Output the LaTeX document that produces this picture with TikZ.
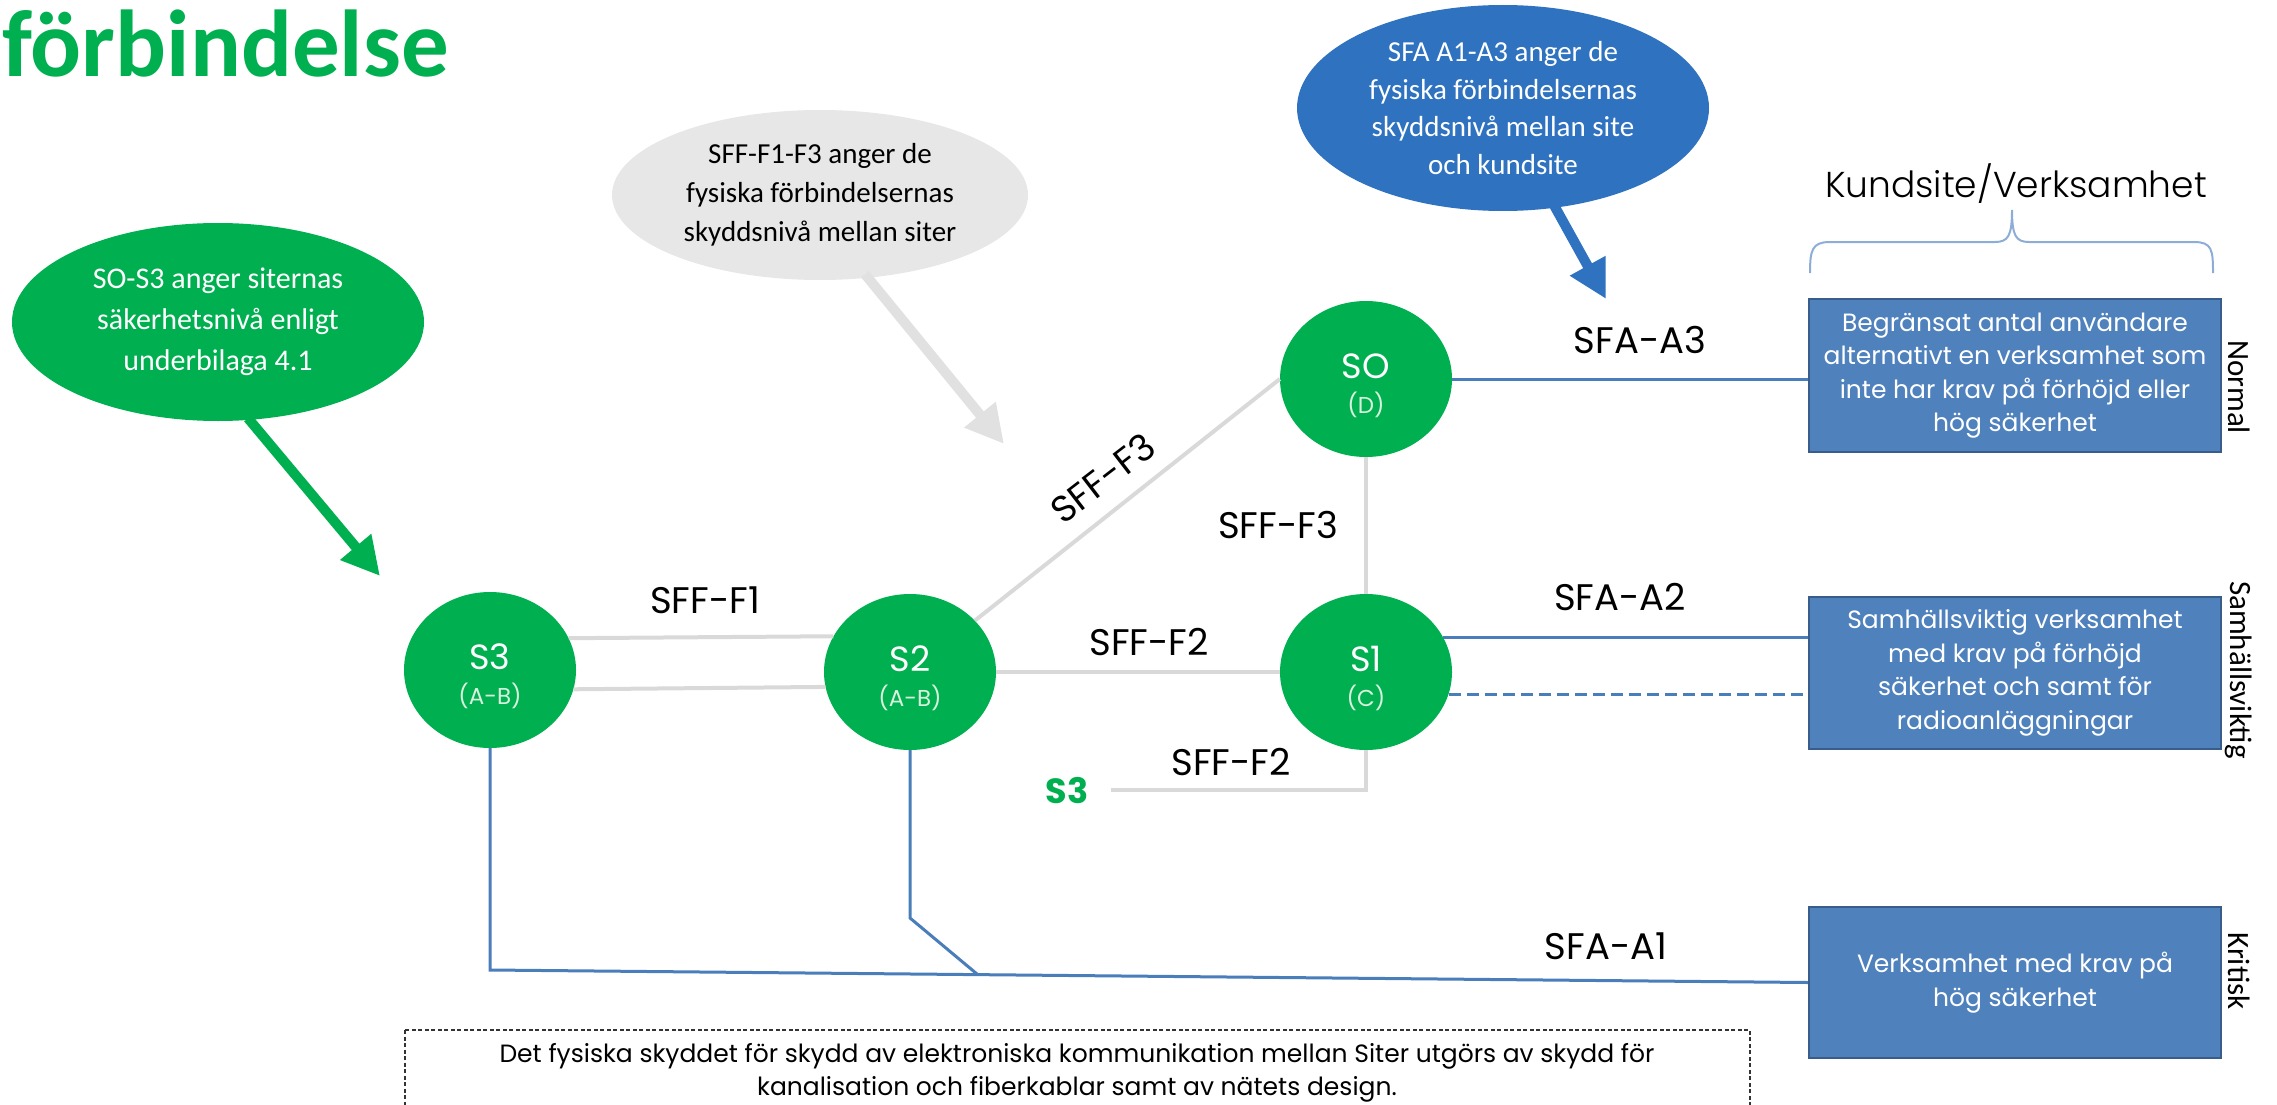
\documentclass[tikz,border=0pt]{standalone}
\usepackage{fontspec}
\setmainfont{Carlito}
\newfontfamily\cg{Poppins}
\newfontfamily\cgl{Poppins Light}
\usetikzlibrary{shapes.geometric,arrows.meta}
\definecolor{ogreen}{HTML}{00B050}
\definecolor{oblue}{HTML}{2F72C0}
\definecolor{boxblue}{HTML}{4F81BD}
\definecolor{boxborder}{HTML}{385D8A}
\definecolor{lineblue}{HTML}{4A7EBB}
\definecolor{lgray}{HTML}{D9D9D9}
\definecolor{egray}{HTML}{E7E7E7}
\definecolor{agray}{HTML}{E1E1E1}
\definecolor{bracec}{HTML}{8DADD6}
\definecolor{subtext}{HTML}{D8F2DE}
\newcommand\fs[2]{\fontsize{#1}{#2}\selectfont}
\begin{document}
\begin{tikzpicture}[x=1pt,y=-1pt,
  site/.style={ellipse, fill=ogreen, minimum width=172pt, minimum height=156pt, inner sep=0pt},
  sitename/.style={anchor=base, text=white, font=\cg\fs{35}{40}, inner sep=0pt},
  sitelevel/.style={anchor=base, text=subtext, font=\cg\fs{23}{26}, inner sep=0pt},
  callout/.style={ellipse, inner sep=0pt, align=center},
  fatarrow/.style={line width=10pt, -{Triangle[length=38pt,width=38pt]}},
  edgelabel/.style={anchor=base, font=\cg\fs{37}{40}, inner sep=0pt},
  kbox/.style={rectangle, fill=boxblue, draw=boxborder, line width=2.5pt, minimum width=412pt, align=center, text=white, font=\cg\fs{25}{33.5}, inner sep=0pt},
  sidelabel/.style={rotate=-90, font=\fs{31}{36}, inner sep=0pt},
  glink/.style={draw=lgray, line width=4pt},
  blink/.style={draw=lineblue, line width=3pt},
]
\useasboundingbox (0,0) rectangle (2277,1105);

% title
\node[anchor=base west, inner sep=0pt, text=ogreen, font=\bfseries\fs{95}{100}] (title) at (2,77) {förbindelse};

% callouts
\node[callout, fill=ogreen, text=white, font=\fs{30}{41}, minimum width=412pt, minimum height=198pt] (cgreen) at (218,322)
  {SO-S3 anger siternas\\säkerhetsnivå enligt\\underbilaga 4.1};
\node[callout, fill=egray, text=black, font=\fs{29}{39}, minimum width=416pt, minimum height=170pt] (cgray) at (820,195)
  {SFF-F1-F3 anger de\\fysiska förbindelsernas\\skyddsnivå mellan siter};
\node[callout, fill=oblue, text=white, font=\fs{29}{37.8}, minimum width=412pt, minimum height=206pt] (cblue) at (1503,108)
  {SFA A1-A3 anger de\\fysiska förbindelsernas\\skyddsnivå mellan site\\och kundsite};

\coordinate (tipgreen) at (380,576);
\coordinate (tipgray) at (1004,444);
\coordinate (tipblue) at (1606,299);
\draw[fatarrow, draw=ogreen, fill=ogreen] ([xshift=30pt,yshift=3pt]cgreen.south) -- (tipgreen);
\draw[fatarrow, draw=agray, fill=agray] ([xshift=45pt,yshift=6pt]cgray.south) -- (tipgray);
\draw[fatarrow, draw=oblue, fill=oblue] ([xshift=51pt,yshift=6pt]cblue.south) -- (tipblue);

% sites
\node[site] (S3) at (490,670) {};
\node[site] (S2) at (910,672) {};
\node[site] (S1) at (1366,672) {};
\node[site] (SO) at (1366,379) {};
\node[sitename] (S3n) at (490,669) {S3};
\node[sitelevel] (S3l) at (490,704) {(A-B)};
\node[sitename] (S2n) at (910,671) {S2};
\node[sitelevel] (S2l) at (910,706) {(A-B)};
\node[sitename] (S1n) at (1366,671) {S1};
\node[sitelevel] (S1l) at (1366,706) {(C)};
\node[sitename] (SOn) at (1366,378) {SO};
\node[sitelevel] (SOl) at (1366,413) {(D)};

\node[anchor=base, inner sep=0pt, inner xsep=22pt, text=ogreen, font=\cg\bfseries\fs{35}{40}] (s3b) at (1067,803) {S3};

% gray links
\draw[glink] (S3.22) -- (S2.155);
\draw[glink] (S3.-13.5) -- (S2.190.8);
\draw[glink] (S2) -- (S1);
\draw[glink] (S2) -- (SO.west);
\draw[glink] (SO) -- (S1);
\draw[glink] (S1.south) |- (s3b.east);

% edge labels
\node[edgelabel] (lF1) at (705,613) {SFF-F1};
\node[edgelabel] (lF2a) at (1149,655) {SFF-F2};
\node[edgelabel] (lF3v) at (1278,538) {SFF-F3};
\node[edgelabel] (lF2b) at (1231,775) {SFF-F2};
\node[font=\cg\fs{37}{40}, inner sep=0pt, rotate=37.6] (lF3d) at (1103,478) {SFF-F3};
\node[edgelabel] (lA3) at (1640,353) {SFA-A3};
\node[edgelabel] (lA2) at (1620,610) {SFA-A2};
\node[edgelabel] (lA1) at (1606,959) {SFA-A1};

% customer boxes
\node[kbox, minimum height=153pt] (B1) at (2015,375.5)
  {Begränsat antal användare\\alternativt en verksamhet som\\inte har krav på förhöjd eller\\hög säkerhet};
\node[kbox, minimum height=152pt] (B2) at (2015,673)
  {Samhällsviktig verksamhet\\med krav på förhöjd\\säkerhet och samt för\\radioanläggningar};
\node[kbox, minimum height=151pt] (B3) at (2015,982.5)
  {Verksamhet med krav på\\hög säkerhet};

\node[sidelabel] (lNormal) at (2239,387) {Normal};
\node[sidelabel] (lSamh) at (2239,670) {Samhällsviktig};
\node[sidelabel] (lKrit) at (2239,971) {Kritisk};

\node[anchor=base, inner sep=0pt, font=\cgl\fs{36}{40}] (kund) at (2016,197) {Kundsite/Verksamhet};
\draw[bracec, line width=2pt] (1810,273) .. controls (1810,250) and (1812,242) .. (1830,242) -- (1995,242)
  .. controls (2008,242) and (2012,236) .. (2012,210)
  .. controls (2012,236) and (2016,242) .. (2029,242) -- (2194,242)
  .. controls (2212,242) and (2213,250) .. (2213,273);

% blue links
\draw[blink] (SO.east) -- (SO.east -| B1.west);
\draw[blink] (S1.24.4) -- (S1.24.4 -| B2.west);
\draw[blink, dash pattern=on 12pt off 6pt] (S1.-15) -- (S1.-15 -| B2.west);
\coordinate (j1) at (490,970);
\coordinate (j2) at (910,918);
\coordinate (j3) at (977,974);
\draw[blink] (S3.south) -- (j1) -- (B3.west);
\draw[blink] (S2.south) -- (j2) -- (j3);

% note
\draw[line width=1.2pt, dash pattern=on 4pt off 2.5pt, draw=black!80] (405,1030) rectangle (1750,1130);
\node[align=center, inner sep=0pt, font=\cg\fs{25}{33}] (note) at (1077,1073)
  {Det fysiska skyddet för skydd av elektroniska kommunikation mellan Siter utgörs av skydd för\\kanalisation och fiberkablar samt av nätets design.};
\end{tikzpicture}
\end{document}
